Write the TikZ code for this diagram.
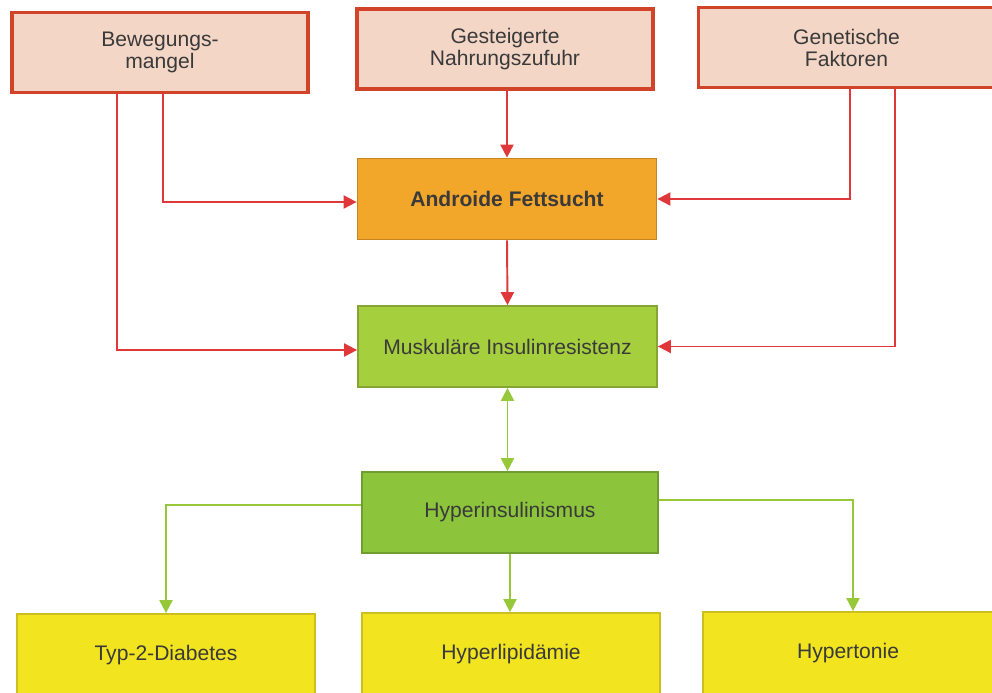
\documentclass[tikz,border=0pt]{standalone}
\usepackage{fontspec}
\setmainfont{Liberation Sans}
\usetikzlibrary{arrows.meta}

\definecolor{causefill}{HTML}{F3D6C6}
\definecolor{causeline}{HTML}{D2442A}
\definecolor{redline}{HTML}{E0383A}
\definecolor{fatfill}{HTML}{F2A62A}
\definecolor{resfill}{HTML}{A6CF3E}
\definecolor{hypfill}{HTML}{8CC43C}
\definecolor{greenline}{HTML}{96C83A}
\definecolor{endfill}{HTML}{F2E41E}
\definecolor{endline}{HTML}{CDBE22}
\definecolor{textgray}{HTML}{3A3A3A}

\begin{document}
\begin{tikzpicture}[x=0.2mm, y=-0.2mm,
    every node/.style={font=\fontsize{12}{12.5}\selectfont, text=textgray, align=center, inner sep=0pt},
    cause/.style={draw=causeline, fill=causefill, line width=2.2pt, minimum width=59.2mm, minimum height=16mm},
    midbox/.style={draw=#1!80!black, fill=#1, line width=1pt, minimum width=59.8mm, minimum height=16.2mm},
    endbox/.style={draw=endline, fill=endfill, line width=1pt, minimum width=59.6mm, minimum height=16.4mm},
    redarrow/.style={draw=redline, line width=1.1pt, -{Triangle[length=2.6mm, width=2.6mm]}},
    greenarrow/.style={draw=greenline, line width=1.1pt, -{Triangle[length=2.6mm, width=2.6mm]}}]
    \useasboundingbox (0,0) rectangle (992,692);

    % causes
    \node[cause] (bew) at (160,52.5) {Bewegungs-\\mangel};
    \node[cause] (nahr) at (505,49) {Gesteigerte\\Nahrungszufuhr};
    \node[cause] (gen) at (846.5,47.5) {Genetische\\Faktoren};

    % middle column
    \node[midbox=fatfill] (fett) at (507,199) {\textbf{Androide Fettsucht}};
    \node[midbox=resfill] (ires) at (507.5,346.5) {Muskuläre Insulinresistenz};
    \node[midbox=hypfill, minimum width=59.2mm] (hins) at (510,512.5) {Hyperinsulinismus};

    % consequences
    \node[endbox] (typ) at (166,655) {Typ-2-Diabetes};
    \node[endbox] (lip) at (511,654) {Hyperlipidämie};
    \node[endbox, minimum width=58mm] (ton) at (848,653) {Hypertonie};

    % red connectors
    \draw[redarrow] ([xshift=-8.6mm]bew.south) |- ([yshift=-0.7mm]ires.west);
    \draw[redarrow] ([xshift=0.6mm]bew.south) |- ([yshift=-0.6mm]fett.west);
    \draw[redarrow] (nahr.south -| fett.north) -- (fett.north);
    \draw[redarrow] ([xshift=0.7mm]gen.south) |- (fett.east);
    \draw[redarrow] ([xshift=9.7mm]gen.south) |- (ires.east);
    \draw[redarrow] (fett.south) -- (ires.north);

    % green connectors
    \draw[greenarrow, {Triangle[length=2.6mm, width=2.6mm]}-{Triangle[length=2.6mm, width=2.6mm]}] (ires.south) -- (ires.south |- hins.north);
    \draw[greenarrow] ([yshift=1.5mm]hins.west) -| (typ.north);
    \draw[greenarrow] (hins.south) -- (hins.south |- lip.north);
    \draw[greenarrow] ([yshift=2.5mm]hins.east) -| ([xshift=1mm]ton.north);
\end{tikzpicture}
\end{document}
